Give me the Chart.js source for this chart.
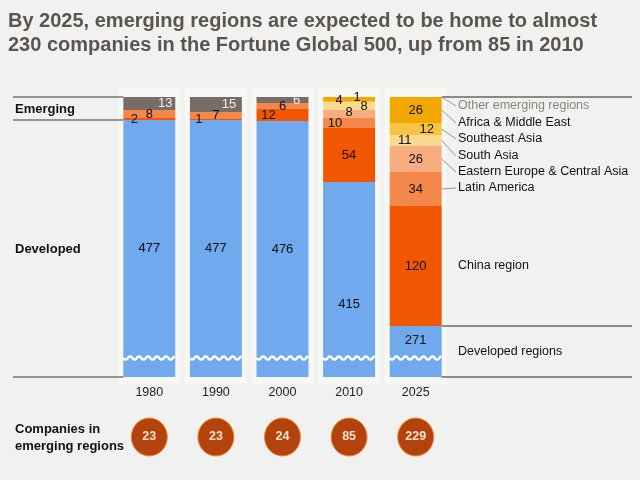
<!DOCTYPE html>
<html>
<head>
<meta charset="utf-8">
<script src="https://cdn.jsdelivr.net/npm/chart.js@4"></script>
<style>
  html, body { margin: 0; padding: 0; background: #f1f1ef; }
  canvas { display: block; }
</style>
</head>
<body>
<canvas id="c" width="640" height="480"></canvas>
<script>
// ---- data ----
const years = ['1980', '1990', '2000', '2010', '2025'];
const developed = [477, 477, 476, 415, 271];
const china = [2, 1, 12, 54, 120];
const latinAmerica = [8, 7, 6, 10, 34];
const easternEurope = [0, 0, 0, 8, 26];
const southAsia = [0, 0, 0, 8, 11];
const southeastAsia = [0, 0, 0, 1, 12];
const africaMiddleEast = [0, 0, 0, 4, 26];
const otherEmerging = [13, 15, 6, 0, 0];
const emergingTotals = [23, 23, 24, 85, 229];
const seriesNames = ['Developed regions', 'China region', 'Latin America', 'Eastern Europe & Central Asia',
  'South Asia', 'Southeast Asia', 'Africa & Middle East', 'Other emerging regions'];
const titleLines = ['By 2025, emerging regions are expected to be home to almost',
  '230 companies in the Fortune Global 500, up from 85 in 2010'];

// ---- style ----
const colors = ['#70a9ee', '#f25700', '#f4884a', '#f7ad82', '#f9da8e', '#f6c445', '#f2a800', '#776c66'];
const labelColors = ['#111', '#111', '#111', '#111', '#111', '#111', '#111', '#f0f0f0'];
// per-series, per-year label shifts [dx, dy]
const labelShift = [
  [[0,0],[0,0],[0,0],[0,25],[0,-11]],
  [[-15,0],[-17,0],[-14,0],[0,0],[0,0]],
  [[0,0],[0,0],[0,0],[-14,0],[0,0]],
  [[0,0],[0,0],[0,0],[0,-2],[0,0]],
  [[0,0],[0,0],[0,0],[15,0],[-11,0]],
  [[0,0],[0,0],[0,0],[8,-4],[11,0]],
  [[0,0],[0,0],[0,0],[-10,1],[0,0]],
  [[16,0],[13,0],[14,0],[0,0],[0,0]]
];
// right-hand legend text y positions, per series
const legendY = [352, 266, 188, 172, 156, 139, 123, 106];
const FONT = '"Liberation Sans", Arial, sans-serif';

const datasets = [developed, china, latinAmerica, easternEurope, southAsia, southeastAsia, africaMiddleEast, otherEmerging]
  .map((d, i) => ({
    label: seriesNames[i],
    data: d,
    backgroundColor: colors[i],
    borderWidth: 0,
    barPercentage: 0.78,
    categoryPercentage: 1
  }));

const deco = {
  id: 'deco',
  beforeDraw(chart) {
    const ctx = chart.ctx;
    ctx.save();
    ctx.fillStyle = '#f1f1ef';
    ctx.fillRect(0, 0, chart.width, chart.height);
    // light columns behind bars
    const meta = chart.getDatasetMeta(0);
    ctx.fillStyle = '#f7f7f5';
    meta.data.forEach(el => {
      const w = el.width;
      ctx.fillRect(el.x - w / 2 - 5, 88, w + 10, 296);
    });
    ctx.restore();
  },
  afterDatasetsDraw(chart) {
    const ctx = chart.ctx;
    const ca = chart.chartArea;
    ctx.save();
    // wavy break lines
    const meta0 = chart.getDatasetMeta(0);
    ctx.strokeStyle = '#ffffff';
    ctx.lineWidth = 2.5;
    meta0.data.forEach(el => {
      const x0 = el.x - el.width / 2, x1 = el.x + el.width / 2;
      ctx.beginPath();
      for (let x = x0; x <= x1; x += 0.5) {
        const y = 358 + 1.6 * Math.sin((x - x0) / 9 * Math.PI * 2);
        if (x === x0) ctx.moveTo(x, y); else ctx.lineTo(x, y);
      }
      ctx.stroke();
    });
    // value labels
    ctx.textAlign = 'center';
    ctx.textBaseline = 'middle';
    ctx.font = '13px ' + FONT;
    chart.data.datasets.forEach((ds, i) => {
      const meta = chart.getDatasetMeta(i);
      ds.data.forEach((v, j) => {
        if (!v) return;
        const el = meta.data[j];
        const top = Math.max(Math.min(el.y, el.base), ca.top);
        const bot = Math.min(Math.max(el.y, el.base), ca.bottom);
        const s = labelShift[i][j];
        ctx.fillStyle = labelColors[i];
        ctx.fillText(String(v), el.x + s[0], (top + bot) / 2 + s[1]);
      });
    });
    ctx.restore();
  },
  afterDraw(chart) {
    const ctx = chart.ctx;
    const ca = chart.chartArea;
    const y = chart.scales.y;
    const metas = chart.data.datasets.map((d, i) => chart.getDatasetMeta(i));
    const first = metas[0].data[0], last = metas[0].data[metas[0].data.length - 1];
    const barLeft = first.x - first.width / 2;
    const barRight = last.x + last.width / 2;
    ctx.save();
    // title
    ctx.fillStyle = '#5b5450';
    ctx.font = 'bold 20px ' + FONT;
    ctx.textAlign = 'left';
    ctx.textBaseline = 'alphabetic';
    ctx.fillText(titleLines[0], 8, 27);
    ctx.fillText(titleLines[1], 8, 51);

    // left guide lines
    ctx.strokeStyle = '#7a7470';
    ctx.lineWidth = 1.5;
    const topY = y.getPixelForValue(500);
    const emY = y.getPixelForValue(500 - emergingTotals[0]);
    [topY, emY, ca.bottom].forEach(yy => {
      ctx.beginPath(); ctx.moveTo(13, yy); ctx.lineTo(barLeft, yy); ctx.stroke();
    });
    // right guide lines
    const devTop = y.getPixelForValue(developed[developed.length - 1]);
    ctx.strokeStyle = '#6e6662';
    [topY, devTop, ca.bottom].forEach(yy => {
      ctx.beginPath(); ctx.moveTo(barRight, yy); ctx.lineTo(632, yy); ctx.stroke();
    });

    // left row labels
    ctx.fillStyle = '#111';
    ctx.font = 'bold 13px ' + FONT;
    ctx.textBaseline = 'middle';
    ctx.fillText('Emerging', 15, 109);
    ctx.fillText('Developed', 15, 249);
    ctx.fillText('Companies in', 15, 429);
    ctx.fillText('emerging regions', 15, 446);

    // right legend with leader lines
    const lastIdx = years.length - 1;
    ctx.font = '12.5px ' + FONT;
    ctx.lineWidth = 1;
    chart.data.datasets.forEach((ds, i) => {
      const el = metas[i].data[lastIdx];
      const ly = legendY[i];
      ctx.fillStyle = i === 7 ? '#8a8480' : '#111';
      ctx.fillText(ds.label, 458, ly);
      if (i >= 2) {
        const sy = (Math.min(el.y, el.base) + Math.max(el.y, el.base)) / 2;
        ctx.strokeStyle = '#9a9490';
        ctx.beginPath();
        ctx.moveTo(barRight, sy);
        ctx.lineTo(456, ly);
        ctx.stroke();
      }
    });

    // circles with emerging totals
    ctx.textAlign = 'center';
    metas[0].data.forEach((el, j) => {
      ctx.beginPath();
      ctx.ellipse(el.x, 437, 18, 19, 0, 0, Math.PI * 2);
      ctx.fillStyle = '#b4420c';
      ctx.fill();
      ctx.strokeStyle = '#e88a3c';
      ctx.lineWidth = 1;
      ctx.stroke();
      ctx.fillStyle = '#fbe6cc';
      ctx.font = 'bold 12.5px ' + FONT;
      ctx.fillText(String(emergingTotals[j]), el.x, 437);
    });
    ctx.restore();
  }
};

new Chart(document.getElementById('c'), {
  type: 'bar',
  data: { labels: years, datasets },
  options: {
    responsive: false,
    animation: false,
    layout: { padding: { left: 116, right: 191, top: 97, bottom: 0 } },
    plugins: { legend: { display: false }, tooltip: { enabled: false }, title: { display: false } },
    scales: {
      x: {
        stacked: true,
        grid: { display: false, drawTicks: false },
        border: { display: false },
        ticks: { color: '#222', font: { size: 12.5, family: FONT }, padding: 8 },
        afterFit(scale) { scale.height = 103; }
      },
      y: { stacked: true, display: false, min: 220, max: 500 }
    }
  },
  plugins: [deco]
});
</script>
</body>
</html>
